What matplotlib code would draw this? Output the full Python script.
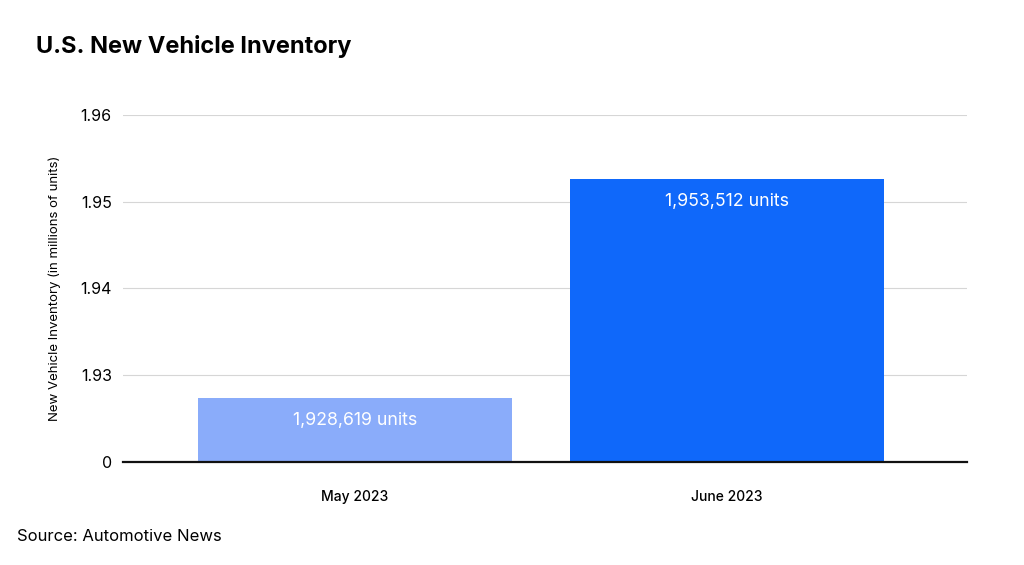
import matplotlib
matplotlib.use('Agg')
import matplotlib.pyplot as plt

plt.rcParams['font.family'] = ['Inter', 'DejaVu Sans']

months = ['May 2023', 'June 2023']
inventory = [1.9274, 1.9526]   # millions of units
bar_labels = ['1,928,619 units', '1,953,512 units']
colors = ['#8aacfa', '#0f68fa']
ytick_vals = [1.92, 1.93, 1.94, 1.95, 1.96]
ytick_text = ['0', '1.93', '1.94', '1.95', '1.96']

base = ytick_vals[0]

fig = plt.figure(figsize=(10.24, 5.65), dpi=100)
ax = fig.add_axes([0.120, 0.1823, 0.824, 0.6142])

xs = range(len(months))
ax.bar(xs, [v - base for v in inventory], bottom=base, width=0.844, color=colors, zorder=2)

for x, v, lab in zip(xs, inventory, bar_labels):
    ax.text(x, v - 0.0026, lab, ha='center', va='center', color='white', fontsize=12.8)

ax.set_xlim(-0.624, 1.645)
ax.set_ylim(base, 1.96)
ax.set_yticks(ytick_vals)
ax.set_yticklabels(ytick_text, fontsize=11.5)
ax.set_xticks(list(xs))
ax.set_xticklabels(months, fontsize=10, fontweight='medium')
ax.tick_params(axis='y', length=0, pad=8)
ax.tick_params(axis='x', length=0, pad=20)
ax.grid(axis='y', color='#d6d6d6', linewidth=0.8, zorder=0)
for s in ['top', 'right', 'left']:
    ax.spines[s].set_visible(False)
ax.spines['bottom'].set_linewidth(1.6)
ax.spines['bottom'].set_color('#111111')
ax.spines['bottom'].set_zorder(3)

ax.set_ylabel('New Vehicle Inventory (in millions of units)', fontsize=9.5, labelpad=14)

fig.text(0.035, 0.918, 'U.S. New Vehicle Inventory', fontsize=17, fontweight='bold', va='center')
fig.text(0.017, 0.051, 'Source: Automotive News', fontsize=12, va='center')

fig.savefig('out.png', dpi=100, facecolor='white')
